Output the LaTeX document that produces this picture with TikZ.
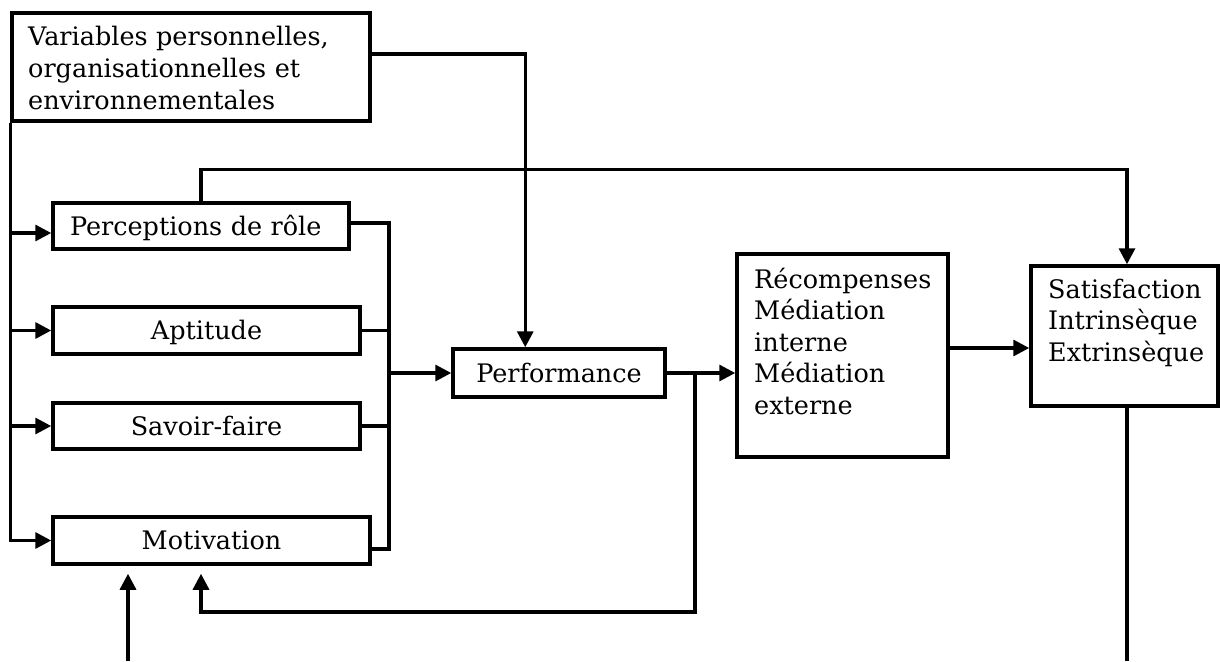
\documentclass[tikz,border=0pt]{standalone}
\usepackage{fontspec}
\setmainfont{DejaVu Serif}
\usetikzlibrary{arrows.meta,calc}
\begin{document}
\begin{tikzpicture}[x=1pt,y=-1pt,
  every node/.style={font=\fontsize{25.5}{31.6}\selectfont},
  box/.style={draw, line width=3.5pt, rectangle, inner sep=0pt, text height=18.5pt, text depth=0pt},
  txt/.style={inner sep=0pt, align=left, anchor=base west},
  conn/.style={line width=3.3pt},
  arr/.style={conn, -{Triangle[length=16pt,width=16pt]}}]
\useasboundingbox (0,0) rectangle (1220,661);
% boxes
\node[box, minimum width=358pt, minimum height=108pt] (var) at (191,67) {};
\node[txt, text width=340pt] (vart) at (28,46) {Variables personnelles,\\organisationnelles et\\environnementales};
\node[box, minimum width=296pt, minimum height=46pt, text width=262pt, align=left] (perc) at (201,226) {Perceptions de rôle};
\node[box, minimum width=307pt, minimum height=47pt] (apt) at (206.5,330.5) {Aptitude};
\node[box, minimum width=307pt, minimum height=46pt] (sav) at (206.5,426) {Savoir-faire};
\node[box, minimum width=317pt, minimum height=47pt] (mot) at (211.5,540.5) {Motivation};
\node[box, minimum width=212pt, minimum height=48pt] (perf) at (559,373) {Performance};
\node[box, minimum width=211pt, minimum height=203pt] (rec) at (842.5,355.5) {};
\node[txt, text width=190pt] (rect) at (754,288) {Récompenses\\Médiation\\interne\\Médiation\\externe};
\node[box, minimum width=187pt, minimum height=140pt] (sat) at (1124.5,336) {};
\node[txt, text width=165pt] (satt) at (1048,298) {Satisfaction\\Intrinsèque\\Extrinsèque};
% helper coordinates
\coordinate (M) at (389,373);
\coordinate (F) at (695,373);
\coordinate (G) at (695,612);
\coordinate (B) at (128,661);
\coordinate (S) at (1127,661);
\path ($(rec.east)+(0,-7.5)$) coordinate (R);
% left bus
\draw[arr] (var.south west) |- (mot.west);
\draw[arr] ($(var.south west |- perc.west)+(0,7)$) -- ($(perc.west)+(0,7)$);
\draw[arr] (var.south west |- apt.west) -- (apt.west);
\draw[arr] (var.south west |- sav.west) -- (sav.west);
% right bus
\draw[conn] ($(perc.east)+(0,-3)$) -| ($(M |- mot.east)+(0,8.5)$) -- ($(mot.east)+(0,8.5)$);
\draw[conn] (apt.east) -- (apt.east -| M);
\draw[conn] (sav.east) -- (sav.east -| M);
\draw[arr] (M) -- (perf.west);
% variables to performance
\draw[arr] ($(var.east)+(0,-13)$) -| ($(perf.north west)+(74,0)$);
% perceptions to satisfaction
\draw[arr] (perc.north) -- ++(0,-32) -| ($(sat.north)+(2.5,0)$);
% performance to rewards
\draw[arr] (perf.east) -- (rec.west |- perf.east);
% feedback to motivation
\draw[arr] (F) -- (G) -| ($(mot.south)+(-10.5,8)$);
\draw[arr] (B) -- ($(mot.south)+(-83.5,8)$);
% rewards to satisfaction
\draw[arr] (R) -- (R -| sat.west);
\draw[conn] ($(sat.south)+(2.5,0)$) -- (S);
\end{tikzpicture}
\end{document}
